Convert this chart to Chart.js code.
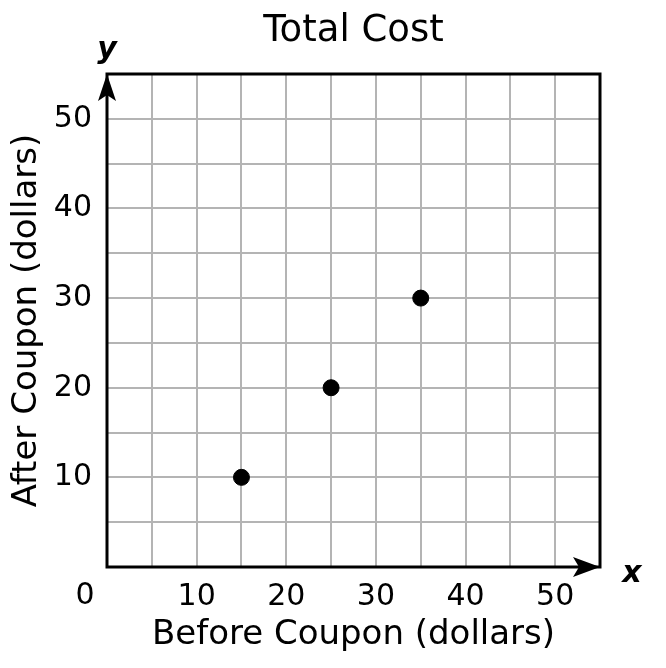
<!DOCTYPE html>
<html>
<head>
<meta charset="utf-8">
<script src="https://cdn.jsdelivr.net/npm/chart.js@4.4.1/dist/chart.umd.min.js"></script>
<style>
    body { margin: 0; background: #fff; }
    #wrap { width: 666px; height: 668px; position: relative; }
</style>
</head>
<body>
<div id="wrap"><canvas id="costChart"></canvas></div>
<script>
// Dữ liệu
const beforeCoupon = [15, 25, 35];
const afterCoupon = [10, 20, 30];
const xTickLabels = [10, 20, 30, 40, 50];
const yTickLabels = [10, 20, 30, 40, 50];
const originLabel = '0';
const axisMax = 55;
const gridStep = 5;

const FONT = '"DejaVu Sans", Verdana, sans-serif';

// Vẽ khung, mũi tên, nhãn x / y và số 0
const axesPlugin = {
    id: 'axesPlugin',
    afterDraw(chart) {
        const ctx = chart.ctx;
        const a = chart.chartArea;
        ctx.save();
        ctx.strokeStyle = '#000';
        ctx.fillStyle = '#000';
        ctx.lineWidth = 3;
        ctx.strokeRect(a.left, a.top, a.right - a.left, a.bottom - a.top);

        // mũi tên trục y
        ctx.beginPath();
        ctx.moveTo(a.left, a.top);
        ctx.lineTo(a.left - 9, a.top + 27);
        ctx.lineTo(a.left, a.top + 21);
        ctx.lineTo(a.left + 9, a.top + 27);
        ctx.closePath();
        ctx.fill();

        // mũi tên trục x
        ctx.beginPath();
        ctx.moveTo(a.right, a.bottom);
        ctx.lineTo(a.right - 27, a.bottom - 10);
        ctx.lineTo(a.right - 21, a.bottom);
        ctx.lineTo(a.right - 27, a.bottom + 10);
        ctx.closePath();
        ctx.fill();

        ctx.font = 'italic bold 30px ' + FONT;
        ctx.textAlign = 'center';
        ctx.textBaseline = 'middle';
        ctx.fillText('y', a.left, a.top - 24);
        ctx.fillText('x', a.right + 32, a.bottom + 7);

        ctx.font = '30px ' + FONT;
        ctx.fillText(originLabel, a.left - 22, a.bottom + 29);
        ctx.restore();
    }
};

const ctx = document.getElementById('costChart').getContext('2d');
new Chart(ctx, {
    type: 'scatter',
    data: {
        datasets: [{
            data: beforeCoupon.map((x, i) => ({ x: x, y: afterCoupon[i] })),
            backgroundColor: '#000',
            borderColor: '#000',
            pointRadius: 8,
            pointHoverRadius: 8
        }]
    },
    options: {
        responsive: true,
        maintainAspectRatio: false,
        animation: false,
        layout: {
            padding: { left: 0, right: 66, top: 0, bottom: 0 }
        },
        scales: {
            x: {
                type: 'linear',
                min: 0,
                max: axisMax,
                afterFit: function(scale) { scale.height = 101; },
                grid: { color: '#b4b4b4', lineWidth: 2, drawTicks: false },
                border: { display: false },
                ticks: {
                    stepSize: gridStep,
                    autoSkip: false,
                    maxRotation: 0,
                    padding: 12,
                    color: '#000',
                    font: { family: FONT, size: 30 },
                    callback: function(value) {
                        return xTickLabels.includes(value) ? String(value) : '';
                    }
                },
                title: {
                    display: true,
                    text: 'Before Coupon (dollars)',
                    color: '#000',
                    font: { family: FONT, size: 34 },
                    padding: { top: 0, bottom: 12.6 }
                }
            },
            y: {
                type: 'linear',
                min: 0,
                max: axisMax,
                afterFit: function(scale) { scale.width = 107; },
                grid: { color: '#b4b4b4', lineWidth: 2, drawTicks: false },
                border: { display: false },
                ticks: {
                    stepSize: gridStep,
                    autoSkip: false,
                    padding: 15,
                    color: '#000',
                    font: { family: FONT, size: 30 },
                    callback: function(value) {
                        return yTickLabels.includes(value) ? String(value) : '';
                    }
                },
                title: {
                    display: true,
                    text: 'After Coupon (dollars)',
                    color: '#000',
                    font: { family: FONT, size: 34 },
                    padding: { top: 6.6, bottom: 0 }
                }
            }
        },
        plugins: {
            legend: { display: false },
            tooltip: { enabled: false },
            title: {
                display: true,
                text: 'Total Cost',
                fullSize: false,
                color: '#000',
                font: { family: FONT, size: 37, weight: 'normal' },
                padding: { top: 9, bottom: 20.6 }
            }
        }
    },
    plugins: [axesPlugin]
});
</script>
</body>
</html>
